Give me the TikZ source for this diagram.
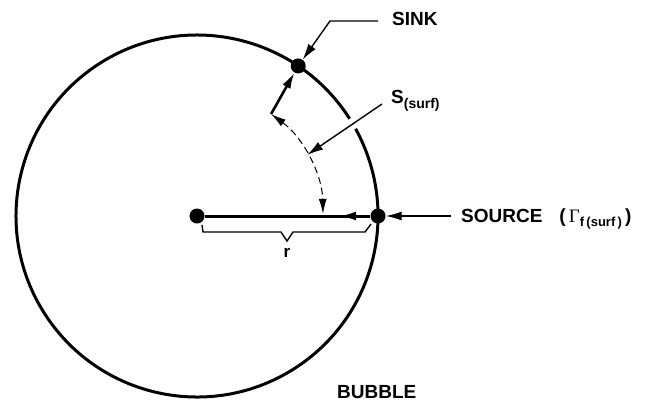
\documentclass[tikz,border=0pt]{standalone}
\usepackage{fontspec}
\setmainfont{Liberation Sans}
\newfontfamily\grfont{Liberation Serif}
\usepackage{tikz}
\usetikzlibrary{arrows.meta, positioning, calc}

\begin{document}
\begin{tikzpicture}[
    x=1pt, y=1pt,
    dot/.style={circle, fill=black, inner sep=0pt, minimum size=15pt},
    tag/.style={font=\bfseries\fontsize{19}{22}\selectfont, inner sep=0pt, anchor=base west},
    heavy/.style={line width=3pt},
    arrow/.style={-{Latex[length=16pt,width=9pt]}, line width=2.6pt},
    leader/.style={-{Latex[length=16pt,width=9pt]}, line width=1.4pt},
    dasharc/.style={{Latex[length=15pt,width=8pt]}-{Latex[length=15pt,width=8pt]},
                    line width=1pt, dash pattern=on 7pt off 4pt}
]
\useasboundingbox (0,0) rectangle (652,-402);

% Bubble (gap where the S(surf) leader crosses)
\coordinate (c) at (197,-216);
\draw[heavy] ([shift={(32.5:181pt)}]c) arc[start angle=32.5, end angle=388.8, radius=181pt];

% Dots
\node[dot] (dot-c) at (c) {};
\node[dot] (dot-src) at ([shift={(0:181pt)}]c) {};
\node[dot] (dot-snk) at ([shift={(56:181pt)}]c) {};

% Radius
\coordinate (tip-r) at (340,-216);
\draw[heavy] (dot-c) -- (dot-src);
\draw[arrow] (dot-src) -- (tip-r);
\draw[line width=1.4pt] (202,-225) -- (203,-232) -- (281,-232) -- (287,-241)
    -- (293,-232) -- (365,-232) -- (371,-224);
\node[font=\bfseries\fontsize{17}{20}\selectfont, inner sep=0pt, anchor=base] (lbl-r) at (287,-257) {r};

% Surface path
\coordinate (bend) at ([shift={(54:126pt)}]c);
\coordinate (s-tip) at ([shift={(29:126pt)}]c);
\draw[dasharc] (bend) arc[start angle=54, end angle=1, radius=126pt];
\draw[arrow] (bend) -- (dot-snk);

% Labels
\node[tag] (lbl-sink) at (392,-25) {SINK};
\node[tag] (lbl-surf) at (391,-103) {S\raisebox{-5pt}{\fontsize{14}{14}\selectfont(surf)}};
\node[tag] (lbl-src) at (461,-222) {SOURCE\hspace{17pt}(\,{\grfont\mdseries Γ}\raisebox{-4pt}{\fontsize{13}{13}\selectfont f\,(surf\,)}\,)};
\node[tag] (lbl-bub) at (337,-398) {BUBBLE};

% Leaders
\coordinate (sink-a) at (378,-21);
\coordinate (sink-b) at (330,-21);
\coordinate (s-from) at (382,-104);
\coordinate (src-a) at (451,-216);
\draw[leader] (sink-a) -- (sink-b) -- (dot-snk);
\draw[leader] (s-from) -- (s-tip);
\draw[leader] (src-a) -- (dot-src);

\end{tikzpicture}
\end{document}
